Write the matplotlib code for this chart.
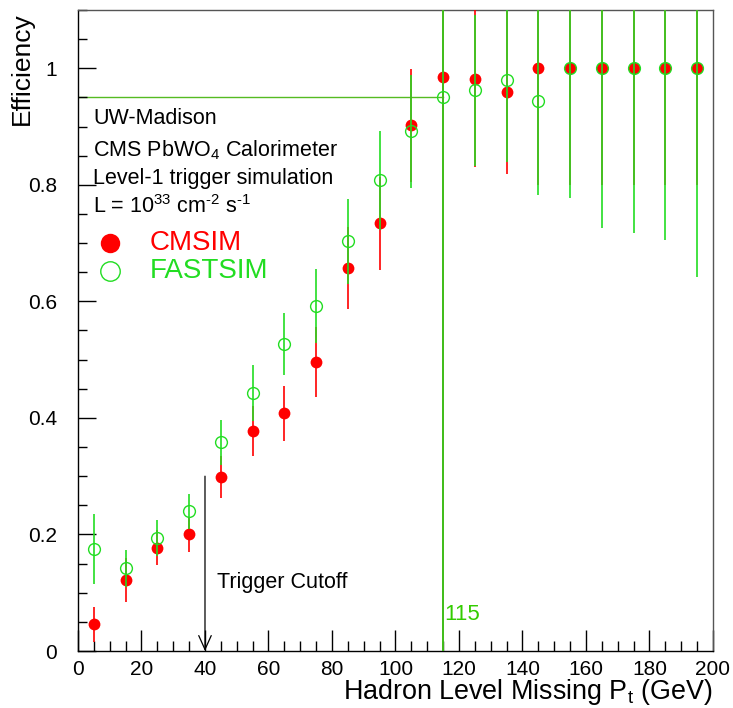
import matplotlib
matplotlib.use("Agg")
import matplotlib.pyplot as plt
import numpy as np
from matplotlib.ticker import MultipleLocator

plt.rcParams['font.family'] = ['Liberation Sans', 'DejaVu Sans']
plt.rcParams['mathtext.fontset'] = 'custom'
plt.rcParams['mathtext.rm'] = 'Liberation Sans'
plt.rcParams['mathtext.it'] = 'Liberation Sans:italic'

# Data
pt = [5, 15, 25, 35, 45, 55, 65, 75, 85, 95, 105, 115, 125, 135, 145, 155, 165, 175, 185, 195]
cmsim = [0.046, 0.122, 0.177, 0.200, 0.298, 0.377, 0.408, 0.496, 0.657, 0.734, 0.902,
         0.985, 0.981, 0.959, 1.0, 1.0, 1.0, 1.0, 1.0, 1.0]
cmsim_err = [0.030, 0.038, 0.030, 0.030, 0.036, 0.043, 0.047, 0.060, 0.070, 0.080, 0.097,
             1.0, 0.15, 0.14, 0.20, 0.20, 0.20, 0.20, 0.20, 0.20]
fastsim = [0.175, 0.142, 0.194, 0.240, 0.358, 0.443, 0.527, 0.592, 0.703, 0.808, 0.892,
           0.950, 0.962, 0.979, 0.943, 1.0, 1.0, 1.0, 1.0, 1.0]
fastsim_err = [0.060, 0.032, 0.031, 0.030, 0.038, 0.048, 0.053, 0.064, 0.073, 0.085, 0.097,
               1.0, 0.13, 0.14, 0.16, 0.223, 0.274, 0.283, 0.295, 0.358]

cutoff = 40
threshold_x = 115
threshold_eff = 0.95

RED = '#ff0000'
GREEN = '#22dd22'

fig = plt.figure(figsize=(7.33, 7.08), dpi=100)
ax = fig.add_axes([0.1064, 0.0805, 0.8663, 0.9054])

ax.set_xlim(0, 200)
ax.set_ylim(0, 1.1)

# threshold lines
ax.plot([0, threshold_x], [threshold_eff, threshold_eff], color='#55bb22', lw=1.0, zorder=1)
ax.axvline(threshold_x, color='#70b028', lw=1.3, zorder=1)

ax.errorbar(pt, cmsim, yerr=cmsim_err, fmt='o', color=RED, ms=8.5, mew=0,
            elinewidth=1.2, capsize=0, zorder=3)
ax.errorbar(pt, fastsim, yerr=fastsim_err, fmt='o', mfc='none', mec=GREEN, ecolor=GREEN,
            ms=8.5, mew=1.0, elinewidth=1.2, capsize=0, zorder=4)

# Trigger cutoff arrow
ax.annotate('', xy=(cutoff, 0), xytext=(cutoff, 0.30),
            arrowprops=dict(arrowstyle='->,head_length=1.0,head_width=0.45', color='black', lw=0.9,
                            shrinkA=0, shrinkB=0))
ax.text(43.8, 0.117, 'Trigger Cutoff', fontsize=15.5, va='center', ha='left')
ax.text(115.5, 0.062, '115', fontsize=16, color='#33cc00', va='center', ha='left')

# annotation text block
ax.text(4.7, 0.913, 'UW-Madison', fontsize=15.5, va='center')
ax.text(4.7, 0.860, r'CMS PbWO$_4$ Calorimeter', fontsize=15.5, va='center')
ax.text(4.7, 0.811, 'Level-1 trigger simulation', fontsize=15.5, va='center')
ax.text(4.7, 0.762, r'L = 10$^{33}$ cm$^{\text{-2}}$ s$^{\text{-1}}$', fontsize=15.5, va='center')

ax.plot([10.1], [0.700], 'o', color=RED, ms=14, mew=0)
ax.plot([10.1], [0.652], 'o', mfc='none', mec=GREEN, ms=14, mew=1.0)
ax.text(22.7, 0.700, 'CMSIM', fontsize=20, color=RED, va='center')
ax.text(22.7, 0.652, 'FASTSIM', fontsize=20, color=GREEN, va='center')

# axes styling
ax.xaxis.set_major_locator(MultipleLocator(20))
ax.xaxis.set_minor_locator(MultipleLocator(5))
ax.yaxis.set_minor_locator(MultipleLocator(0.05))
ax.set_yticks([0, 0.2, 0.4, 0.6, 0.8, 1.0])
ax.set_yticklabels(['0', '0.2', '0.4', '0.6', '0.8', '1'])
ax.tick_params(axis='both', which='both', direction='in', top=False, right=False)
ax.tick_params(axis='x', which='major', length=15, width=1, labelsize=15, pad=6.5)
ax.tick_params(axis='x', which='minor', length=7.5, width=1)
ax.tick_params(axis='y', which='major', length=13, width=1, labelsize=15, pad=15)
ax.tick_params(axis='y', which='minor', length=6.5, width=1)
for s in ['left', 'bottom']:
    ax.spines[s].set_linewidth(1.0)
for s in ['top', 'right']:
    ax.spines[s].set_color('#555555')
    ax.spines[s].set_linewidth(1.0)

ax.set_xlabel(r'Hadron Level Missing P$_\mathrm{t}$ (GeV)', fontsize=19.4, loc='right')
ax.xaxis.set_label_coords(1.0, -0.041)
ax.set_ylabel('Efficiency', fontsize=19, loc='top')
ax.yaxis.set_label_coords(-0.069, 0.997)

fig.savefig('out.png', dpi=100)
